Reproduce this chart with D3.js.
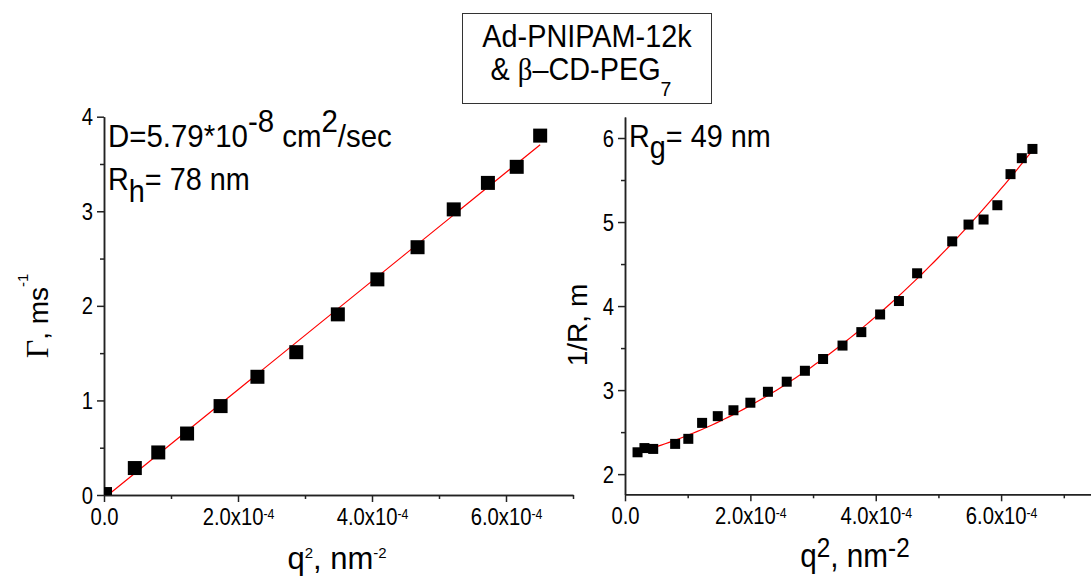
<!DOCTYPE html>
<html>
<head>
<meta charset="utf-8">
<script src="https://cdn.jsdelivr.net/npm/d3@7"></script>
<style>
body{margin:0;background:#fff;}
svg{display:block;}
text{font-family:'Liberation Sans',Arial,sans-serif;fill:#000;white-space:pre;}
.axis path,.axis line{stroke:#222;stroke-width:1.5;}
.fit{fill:none;stroke:#ff0000;stroke-width:1.2;}
.pt{fill:#000;}
</style>
</head>
<body>
<div id="chart"></div>
<script>
//Data, q^2 in nm^-2
var q2Gamma = [0.015e-4,0.46e-4,0.81e-4,1.24e-4,1.74e-4,2.29e-4,2.87e-4,3.49e-4,4.08e-4,4.68e-4,5.22e-4,5.73e-4,6.16e-4,6.51e-4],
	gamma = [0.01,0.285,0.45,0.65,0.94,1.25,1.51,1.91,2.28,2.62,3.02,3.30,3.47,3.80];
var q2InvR = [0.20e-4,0.31e-4,0.45e-4,0.80e-4,1.01e-4,1.23e-4,1.48e-4,1.73e-4,2.00e-4,2.28e-4,2.58e-4,2.87e-4,3.16e-4,3.47e-4,3.77e-4,4.07e-4,4.37e-4,4.66e-4,5.22e-4,5.48e-4,5.72e-4,5.94e-4,6.15e-4,6.33e-4,6.50e-4],
	invR = [2.26,2.31,2.30,2.36,2.42,2.61,2.69,2.76,2.85,2.98,3.10,3.23,3.37,3.53,3.69,3.90,4.06,4.39,4.77,4.97,5.03,5.20,5.57,5.76,5.87];
//fit coefficients (polynomial in q^2) and the q^2 span they were drawn over
var fitGamma = [-0.034,5740], fitGammaRange = [0.06e-4,6.51e-4];
var fitInvR = [2.2213,1818,5.793e6], fitInvRRange = [0.20e-4,6.50e-4];
//ticks
var xMajor = [0,2e-4,4e-4,6e-4], xMinor = [1e-4,3e-4,5e-4,7e-4];
var yMajorL = [0,1,2,3,4], yMinorL = [0.5,1.5,2.5,3.5];
var yMajorR = [2,3,4,5,6], yMinorR = [2.5,3.5,4.5,5.5];

var W = 1091, H = 581;
var SERIF = "'Liberation Serif','Times New Roman',serif";
var svg = d3.select('#chart').append('svg').attr('width',W).attr('height',H);

//append tspans: [text, size, offset from baseline (down +), serif?]
function rich(sel, parts){
	var prev = 0;
	parts.forEach(function(p){
		var off = p[2]||0;
		sel.append('tspan').text(p[0])
			.attr('font-size',p[1])
			.attr('dy',off-prev)
			.style('font-family',p[3]?SERIF:null);
		prev = off;
	});
	return sel;
}
function label(x,y,anchor,sx,rot){
	return svg.append('text')
		.attr('transform','translate('+x+','+y+')'+(rot?' rotate(-90)':'')+' scale('+sx+',1)')
		.attr('text-anchor',anchor);
}
function polyVal(c,x){
	var v = 0;
	for(var i=c.length-1;i>=0;i--) v = v*x + c[i];
	return v;
}
function xTickParts(v){
	if(v===0) return [['0.0',23,0]];
	return [[(v/1e-4).toFixed(1)+'x10',23,0],['-4',14,-6]];
}

function drawPanel(cfg){
	var sx = d3.scaleLinear().domain(cfg.xDomain).range(cfg.xRange),
		sy = d3.scaleLinear().domain(cfg.yDomain).range(cfg.yRange);
	var g = svg.append('g');
	var y0 = cfg.yRange[0], x0 = cfg.xRange[0];

	//x axis
	g.append('g').attr('class','axis').attr('transform','translate(0,'+y0+')')
		.call(d3.axisBottom(sx).tickValues(xMinor).tickSize(4).tickSizeOuter(0).tickFormat(''));
	var xa = g.append('g').attr('class','axis').attr('transform','translate(0,'+y0+')')
		.call(d3.axisBottom(sx).tickValues(xMajor).tickSize(7).tickSizeOuter(0));
	xa.selectAll('text').each(function(d){
		var t = d3.select(this).text('').attr('y',0).attr('dy',0).attr('fill','#000')
			.attr('transform','translate(0,30) scale(0.88,1)');
		rich(t, xTickParts(d));
	});
	//y axis
	g.append('g').attr('class','axis').attr('transform','translate('+x0+',0)')
		.call(d3.axisLeft(sy).tickValues(cfg.yMinor).tickSize(4).tickSizeOuter(0).tickFormat(''));
	var ya = g.append('g').attr('class','axis').attr('transform','translate('+x0+',0)')
		.call(d3.axisLeft(sy).tickValues(cfg.yMajor).tickSize(7).tickSizeOuter(0).tickFormat(d3.format('d')));
	ya.selectAll('text').attr('x',0).attr('dy',0).attr('fill','#000')
		.attr('font-size',23)
		.attr('transform','translate(-11,8) scale(0.88,1)');
	g.selectAll('.axis').attr('font-family',null).attr('font-size',null);
	g.selectAll('.axis text').style('font-family',"'Liberation Sans',Arial,sans-serif");

	//clip to the frame
	var clipId = 'clip'+cfg.id;
	svg.append('clipPath').attr('id',clipId).append('rect')
		.attr('x',x0).attr('y',cfg.yRange[1])
		.attr('width',cfg.xRange[1]-x0).attr('height',y0-cfg.yRange[1]);
	var plot = g.append('g').attr('clip-path','url(#'+clipId+')');

	//fit curve
	var fx = d3.range(0,101).map(function(i){
		return cfg.fitRange[0] + (cfg.fitRange[1]-cfg.fitRange[0])*i/100;
	});
	plot.append('path').attr('class','fit')
		.datum(fx)
		.attr('d',d3.line().x(function(d){return sx(d)}).y(function(d){return sy(polyVal(cfg.fit,d))}));

	//points
	plot.selectAll('.pt').data(cfg.xs).enter()
		.append('rect').attr('class','pt')
		.attr('x',function(d){return sx(d)-cfg.size/2})
		.attr('y',function(d,i){return sy(cfg.ys[i])-cfg.size/2})
		.attr('width',cfg.size).attr('height',cfg.size);
}

drawPanel({id:1, xDomain:[0,7e-4], xRange:[104,573], yDomain:[0,4], yRange:[495,116.7],
	yMajor:yMajorL, yMinor:yMinorL, xs:q2Gamma, ys:gamma, fit:fitGamma, fitRange:fitGammaRange, size:14});
drawPanel({id:2, xDomain:[0,7.45e-4], xRange:[625,1092], yDomain:[1.76,6.25], yRange:[494.3,117],
	yMajor:yMajorR, yMinor:yMinorR, xs:q2InvR, ys:invR, fit:fitInvR, fitRange:fitInvRRange, size:10});

//axis titles
rich(label(337,569,'middle',1), [['q',31,0],['2',15,-11],[', nm',31,0],['-2',15,-11]]);
rich(label(855,567,'middle',0.9), [['q',33,0],['2',27,-10],[', nm',33,0],['-2',27,-10]]);
rich(label(48,316,'middle',1,true), [['\u0393',32,0,true],[', ms',28,0],['-1',15,-20]]);
rich(label(587,325,'middle',1,true), [['1/R, m',28,0]]);

//annotations
rich(label(108,147,'start',0.92), [['D=5.79*10',32,0],['-8',32,-15],[' cm',32,0],['2',32,-15],['/sec',32,0]]);
rich(label(108,190,'start',0.9), [['R',32,0],['h',32,12],['= 78 nm',32,0]]);
rich(label(629,147,'start',0.9), [['R',32,0],['g',32,11],['= 49 nm',32,0]]);

//title box
svg.append('rect').attr('x',462.5).attr('y',13.5).attr('width',249).attr('height',90)
	.attr('fill','none').attr('stroke','#333').attr('stroke-width',1);
rich(label(587,47,'middle',0.93), [['Ad-PNIPAM-12k',31,0]]);
rich(label(581,80,'middle',0.93), [['& ',31,0],['\u03b2',31,0,true],['\u2013CD-PEG',31,0],['7',21,16]]);
</script>
</body>
</html>
